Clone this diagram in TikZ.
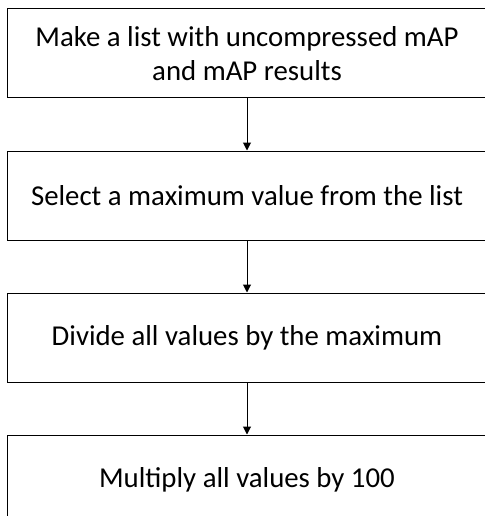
\documentclass[tikz,border=0pt]{standalone}
\usepackage{fontspec}
\setmainfont{Carlito}
\usetikzlibrary{arrows.meta,positioning}

\begin{document}
\begin{tikzpicture}[x=1pt,y=1pt]
\useasboundingbox (0,0) rectangle (484,-516);
\begin{scope}[every node/.style={rectangle,draw,line width=1pt,minimum width=480pt,minimum height=89pt,align=center,inner sep=0pt,font=\fontsize{28.8}{34}\selectfont}]
\node (list) at (247,-53.5) {Make a list with uncompressed mAP\\and mAP results};
\node (select) [below=52pt of list] {Select a maximum value from the list};
\node (divide) [below=52pt of select] {Divide all values by the maximum};
\node (multiply) [below=52pt of divide] {Multiply all values by 100};
\end{scope}

\begin{scope}[>={Triangle[width=8pt,length=8pt]}]
\draw [->, line width=1pt] (list) to (select);
\draw [->, line width=1pt] (select) to (divide);
\draw [->, line width=1pt] (divide) to (multiply);
\end{scope}
\end{tikzpicture}
\end{document}
